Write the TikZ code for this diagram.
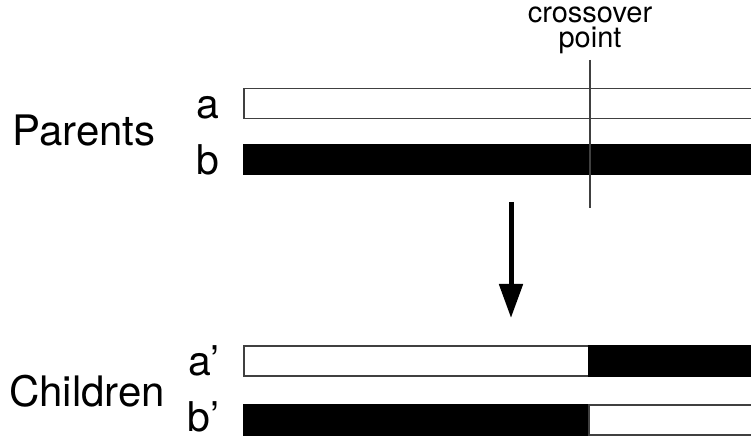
\documentclass[tikz,border=0pt]{standalone}
\usepackage{fontspec}
\setmainfont{TeX Gyre Heros}
\usetikzlibrary{arrows.meta,positioning}
\tikzset{
  genebar/.style={draw=black!75, line width=0.6pt, minimum height=15pt, inner sep=0pt, outer sep=0pt},
  whitebar/.style={genebar, fill=white},
  blackbar/.style={genebar, draw=black, fill=black},
  fullbar/.style={minimum width=256pt},
  halfbar/.style={minimum width=172.5pt},
  tailbar/.style={minimum width=83.5pt},
  barlabel/.style={font=\fontsize{20.5}{24}\selectfont, inner sep=0pt, anchor=base east},
  grouplabel/.style={font=\fontsize{21}{25}\selectfont, inner sep=0pt},
  pointlabel/.style={font=\fontsize{14.5}{12.5}\selectfont, align=center, inner sep=0pt},
  cutline/.style={draw=black!75, line width=0.6pt},
  arrow/.style={-{Triangle[width=11.5pt,length=17pt]}, line width=2.5pt}
}

\begin{document}
\begin{tikzpicture}[x=0.5pt, y=-0.5pt]
  \clip (0,0) rectangle (751,438);

  \node[whitebar, fullbar, anchor=west] (pa) at (244,103.5) {};
  \node[blackbar, fullbar, below=13pt of pa] (pb) {};
  \node[whitebar, halfbar, anchor=west] (ca) at (244,361) {};
  \node[blackbar, tailbar, right=0pt of ca] (cat) {};
  \node[blackbar, halfbar, below=14.5pt of ca] (cb) {};
  \node[whitebar, tailbar, right=0pt of cb] (cbt) {};

  \node[barlabel] (la) at ([xshift=-12pt]pa.south west) {a};
  \node[barlabel] (lb) at ([xshift=-12pt]pb.south west) {b};
  \node[barlabel] (lca) at ([xshift=-12pt]ca.south west) {a’};
  \node[barlabel] (lcb) at ([xshift=-12pt, yshift=1.5pt]cb.south west) {b’};
  \node[grouplabel] (par) at (84,131) {Parents};
  \node[grouplabel] (chi) at (87,391) {Children};

  \coordinate (cuttop) at (590,60);
  \coordinate (cutbot) at (590,208);
  \draw[cutline] (cuttop) -- (cutbot);
  \node[pointlabel, above=3pt of cuttop] (cross) {crossover\\point};

  \coordinate (arrtop) at (511,202);
  \coordinate (arrtip) at (511,318);
  \draw[arrow] (arrtop) -- (arrtip);
\end{tikzpicture}
\end{document}
